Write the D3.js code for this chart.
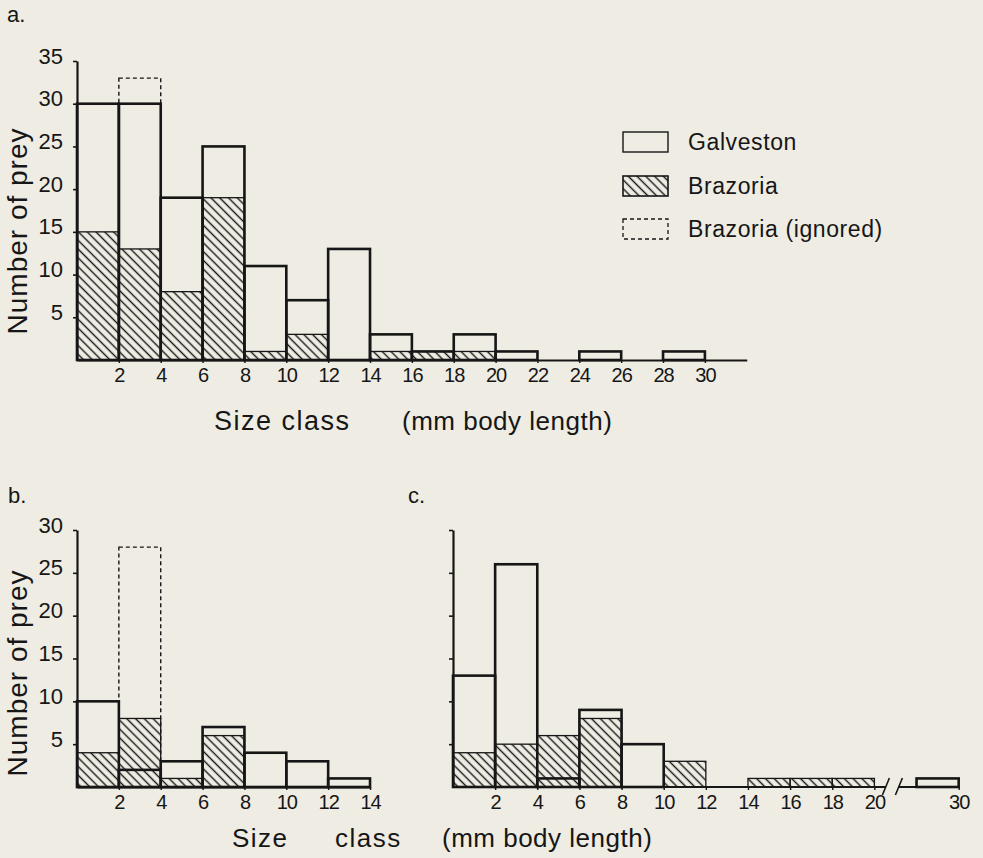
<!DOCTYPE html>
<html>
<head>
<meta charset="utf-8">
<script src="https://cdn.jsdelivr.net/npm/d3@7"></script>
<style>
  html, body { margin: 0; padding: 0; background: #eeece3; }
  svg { display: block; font-family: "Liberation Sans", Arial, Helvetica, sans-serif; }
</style>
</head>
<body>
<svg id="chart" width="983" height="858"></svg>
<script>
// Size classes are 2 mm wide; each bin is keyed by its lower edge.
const BIN_WIDTH = 2;

// a. all prey
const binsA      = [0, 2, 4, 6, 8, 10, 12, 14, 16, 18, 20, 22, 24, 26, 28];
const galvestonA = [30, 30, 19, 25, 11, 7, 13, 3, 1, 3, 1, 0, 1, 0, 1];
const brazoriaA  = [15, 13, 8, 19, 1, 3, 0, 1, 1, 1, 0, 0, 0, 0, 0];
const ignoredBinsA = [2];
const ignoredA     = [33];
const xTicksA = [2, 4, 6, 8, 10, 12, 14, 16, 18, 20, 22, 24, 26, 28, 30];
const yTicksA = [5, 10, 15, 20, 25, 30, 35];

// b.
const binsB      = [0, 2, 4, 6, 8, 10, 12];
const galvestonB = [10, 2, 3, 7, 4, 3, 1];
const brazoriaB  = [4, 8, 1, 6, 0, 0, 0];
const ignoredBinsB = [2];
const ignoredB     = [28];
const xTicksB = [2, 4, 6, 8, 10, 12, 14];
const yTicksB = [5, 10, 15, 20, 25, 30];

// c. (axis broken between 20 and 28)
const binsC      = [0, 2, 4, 6, 8, 10, 12, 14, 16, 18, 28];
const galvestonC = [13, 26, 1, 9, 5, 0, 0, 0, 0, 0, 1];
const brazoriaC  = [4, 5, 6, 8, 0, 3, 0, 1, 1, 1, 0];
const xTicksC = [2, 4, 6, 8, 10, 12, 14, 16, 18, 20, 30];
const yTicksC = [5, 10, 15, 20, 25, 30];

const legendItems = ["Galveston", "Brazoria", "Brazoria (ignored)"];

const INK = "#161616";
const svg = d3.select("#chart");

// diagonal "\" hatching for Brazoria
const defs = svg.append("defs");
const pat = defs.append("pattern")
  .attr("id", "hatch")
  .attr("patternUnits", "userSpaceOnUse")
  .attr("width", 6.2).attr("height", 6.2)
  .attr("patternTransform", "rotate(-45)");
pat.append("line")
  .attr("x1", 3.1).attr("y1", 0).attr("x2", 3.1).attr("y2", 6.2)
  .attr("stroke", INK).attr("stroke-width", 1.4);

function drawBars(g, x, y, bins, galveston, brazoria, ignoredBins, ignoredVals) {
  const y0 = y(0);
  // Brazoria: hatched bars with thin outline
  g.append("g").selectAll("rect")
    .data(bins.map((b, i) => ({ b, v: brazoria[i] })).filter(d => d.v > 0))
    .join("rect")
      .attr("x", d => x(d.b))
      .attr("y", d => y(d.v))
      .attr("width", d => x(d.b + BIN_WIDTH) - x(d.b))
      .attr("height", d => y0 - y(d.v))
      .attr("fill", "url(#hatch)")
      .attr("stroke", INK)
      .attr("stroke-width", 1.3);
  // Brazoria counts left out of the comparison: dashed outline
  if (ignoredBins) {
    g.append("g").selectAll("rect")
      .data(ignoredBins.map((b, i) => ({ b, v: ignoredVals[i] })))
      .join("rect")
        .attr("x", d => x(d.b))
        .attr("y", d => y(d.v))
        .attr("width", d => x(d.b + BIN_WIDTH) - x(d.b))
        .attr("height", d => y0 - y(d.v))
        .attr("fill", "none")
        .attr("stroke", INK)
        .attr("stroke-width", 1.4)
        .attr("stroke-dasharray", "4,3");
  }
  // Galveston: heavy open outline
  g.append("g").selectAll("rect")
    .data(bins.map((b, i) => ({ b, v: galveston[i] })).filter(d => d.v > 0))
    .join("rect")
      .attr("x", d => x(d.b))
      .attr("y", d => y(d.v))
      .attr("width", d => x(d.b + BIN_WIDTH) - x(d.b))
      .attr("height", d => y0 - y(d.v))
      .attr("fill", "none")
      .attr("stroke", INK)
      .attr("stroke-width", 2.6);
}

function drawYAxis(g, x0, y, ticks, withLabels) {
  const ax = g.append("g")
    .attr("transform", `translate(${x0},0)`)
    .call(d3.axisLeft(y).tickValues(ticks).tickSize(4).tickSizeOuter(0).tickPadding(10)
      .tickFormat(withLabels ? d3.format("d") : () => ""));
  ax.select(".domain").attr("stroke", INK).attr("stroke-width", 2.2);
  ax.selectAll(".tick line").attr("stroke", INK).attr("stroke-width", 1.6);
  ax.selectAll(".tick text")
    .attr("fill", INK).attr("font-size", 22).attr("y", -5);
}

function drawXAxis(g, y0, x, ticks, showDomain) {
  const ax = g.append("g")
    .attr("transform", `translate(0,${y0})`)
    .call(d3.axisBottom(x).tickValues(ticks).tickSize(3).tickSizeOuter(0).tickPadding(5));
  if (showDomain) {
    ax.select(".domain").attr("stroke", INK).attr("stroke-width", 2.2);
  } else {
    ax.select(".domain").remove();
  }
  ax.selectAll(".tick line").attr("stroke", INK).attr("stroke-width", 1.4);
  ax.selectAll(".tick text")
    .attr("fill", INK).attr("font-size", 20).attr("letter-spacing", -1);
}

function label(text, x, y, size, opts = {}) {
  return svg.append("text")
    .attr("x", x).attr("y", y)
    .attr("font-size", size)
    .attr("fill", INK)
    .attr("letter-spacing", opts.ls || 0)
    .attr("text-anchor", opts.anchor || "start")
    .attr("transform", opts.transform || null)
    .text(text);
}

// ---------- panel a ----------
const xA = d3.scaleLinear().domain([0, 32]).range([77, 77 + 32 * 20.93]);
const yA = d3.scaleLinear().domain([0, 35]).range([360, 61]);
const gA = svg.append("g");
drawBars(gA, xA, yA, binsA, galvestonA, brazoriaA, ignoredBinsA, ignoredA);
drawXAxis(gA, yA(0), xA, xTicksA, true);
drawYAxis(gA, xA(0), yA, yTicksA, true);

label("a.", 7, 22, 22);
label("Number of prey", 0, 0, 28, { anchor: "middle", ls: 1, transform: "translate(27,231) rotate(-90)" });
label("Size class", 214, 430, 27, { ls: 1.5 });
label("(mm body length)", 402, 430, 26, { ls: 0.5 });

// legend
const legend = svg.append("g").attr("transform", "translate(623,0)");
const legendY = [142, 186, 229];
legendItems.forEach((name, i) => {
  const r = legend.append("rect")
    .attr("x", 0).attr("y", legendY[i] - 10)
    .attr("width", 45).attr("height", 20)
    .attr("stroke", INK);
  if (i === 0) r.attr("fill", "none").attr("stroke-width", 1.4);
  if (i === 1) r.attr("fill", "url(#hatch)").attr("stroke-width", 1.6);
  if (i === 2) r.attr("fill", "none").attr("stroke-width", 1.3).attr("stroke-dasharray", "4,3");
  legend.append("text")
    .attr("x", 65).attr("y", legendY[i])
    .attr("dy", "0.35em")
    .attr("font-size", 23)
    .attr("letter-spacing", 0.6)
    .attr("fill", INK)
    .text(name);
});

// ---------- panel b ----------
const xB = d3.scaleLinear().domain([0, 14]).range([77, 77 + 14 * 20.93]);
const yB = d3.scaleLinear().domain([0, 30]).range([787, 530]);
const gB = svg.append("g");
drawBars(gB, xB, yB, binsB, galvestonB, brazoriaB, ignoredBinsB, ignoredB);
drawXAxis(gB, yB(0), xB, xTicksB, true);
drawYAxis(gB, xB(0), yB, yTicksB, true);

label("b.", 8, 503, 22);
label("Number of prey", 0, 0, 28, { anchor: "middle", ls: 1, transform: "translate(27,673) rotate(-90)" });
label("Size", 232, 847, 26, { ls: 1.5 });
label("class", 335, 847, 26, { ls: 1.5 });

// ---------- panel c (broken x axis) ----------
const ux = 21.07;
const xC = d3.scaleLinear()
  .domain([0, 20, 28, 30])
  .range([453, 453 + 20 * ux, 453 + 22 * ux, 453 + 24 * ux]);
const yC = d3.scaleLinear().domain([0, 30]).range([787, 530]);
const gC = svg.append("g");
drawBars(gC, xC, yC, binsC, galvestonC, brazoriaC, null, null);
drawXAxis(gC, yC(0), xC, xTicksC, false);

// baseline with a break between 20 and 28
const yc0 = yC(0);
const breakL = xC(20) + 11, breakR = xC(20) + 24;
gC.append("line").attr("x1", xC(0)).attr("x2", breakL).attr("y1", yc0).attr("y2", yc0)
  .attr("stroke", INK).attr("stroke-width", 2.2);
gC.append("line").attr("x1", breakR).attr("x2", xC(30)).attr("y1", yc0).attr("y2", yc0)
  .attr("stroke", INK).attr("stroke-width", 2.2);
[breakL, breakR].forEach(bx => {
  gC.append("line")
    .attr("x1", bx - 3).attr("y1", yc0 + 8)
    .attr("x2", bx + 4).attr("y2", yc0 - 9)
    .attr("stroke", INK).attr("stroke-width", 1.6);
});
drawYAxis(gC, xC(0), yC, yTicksC, false);

label("c.", 408, 503, 22);
label("(mm body length)", 442, 847, 26, { ls: 0.5 });
</script>
</body>
</html>
